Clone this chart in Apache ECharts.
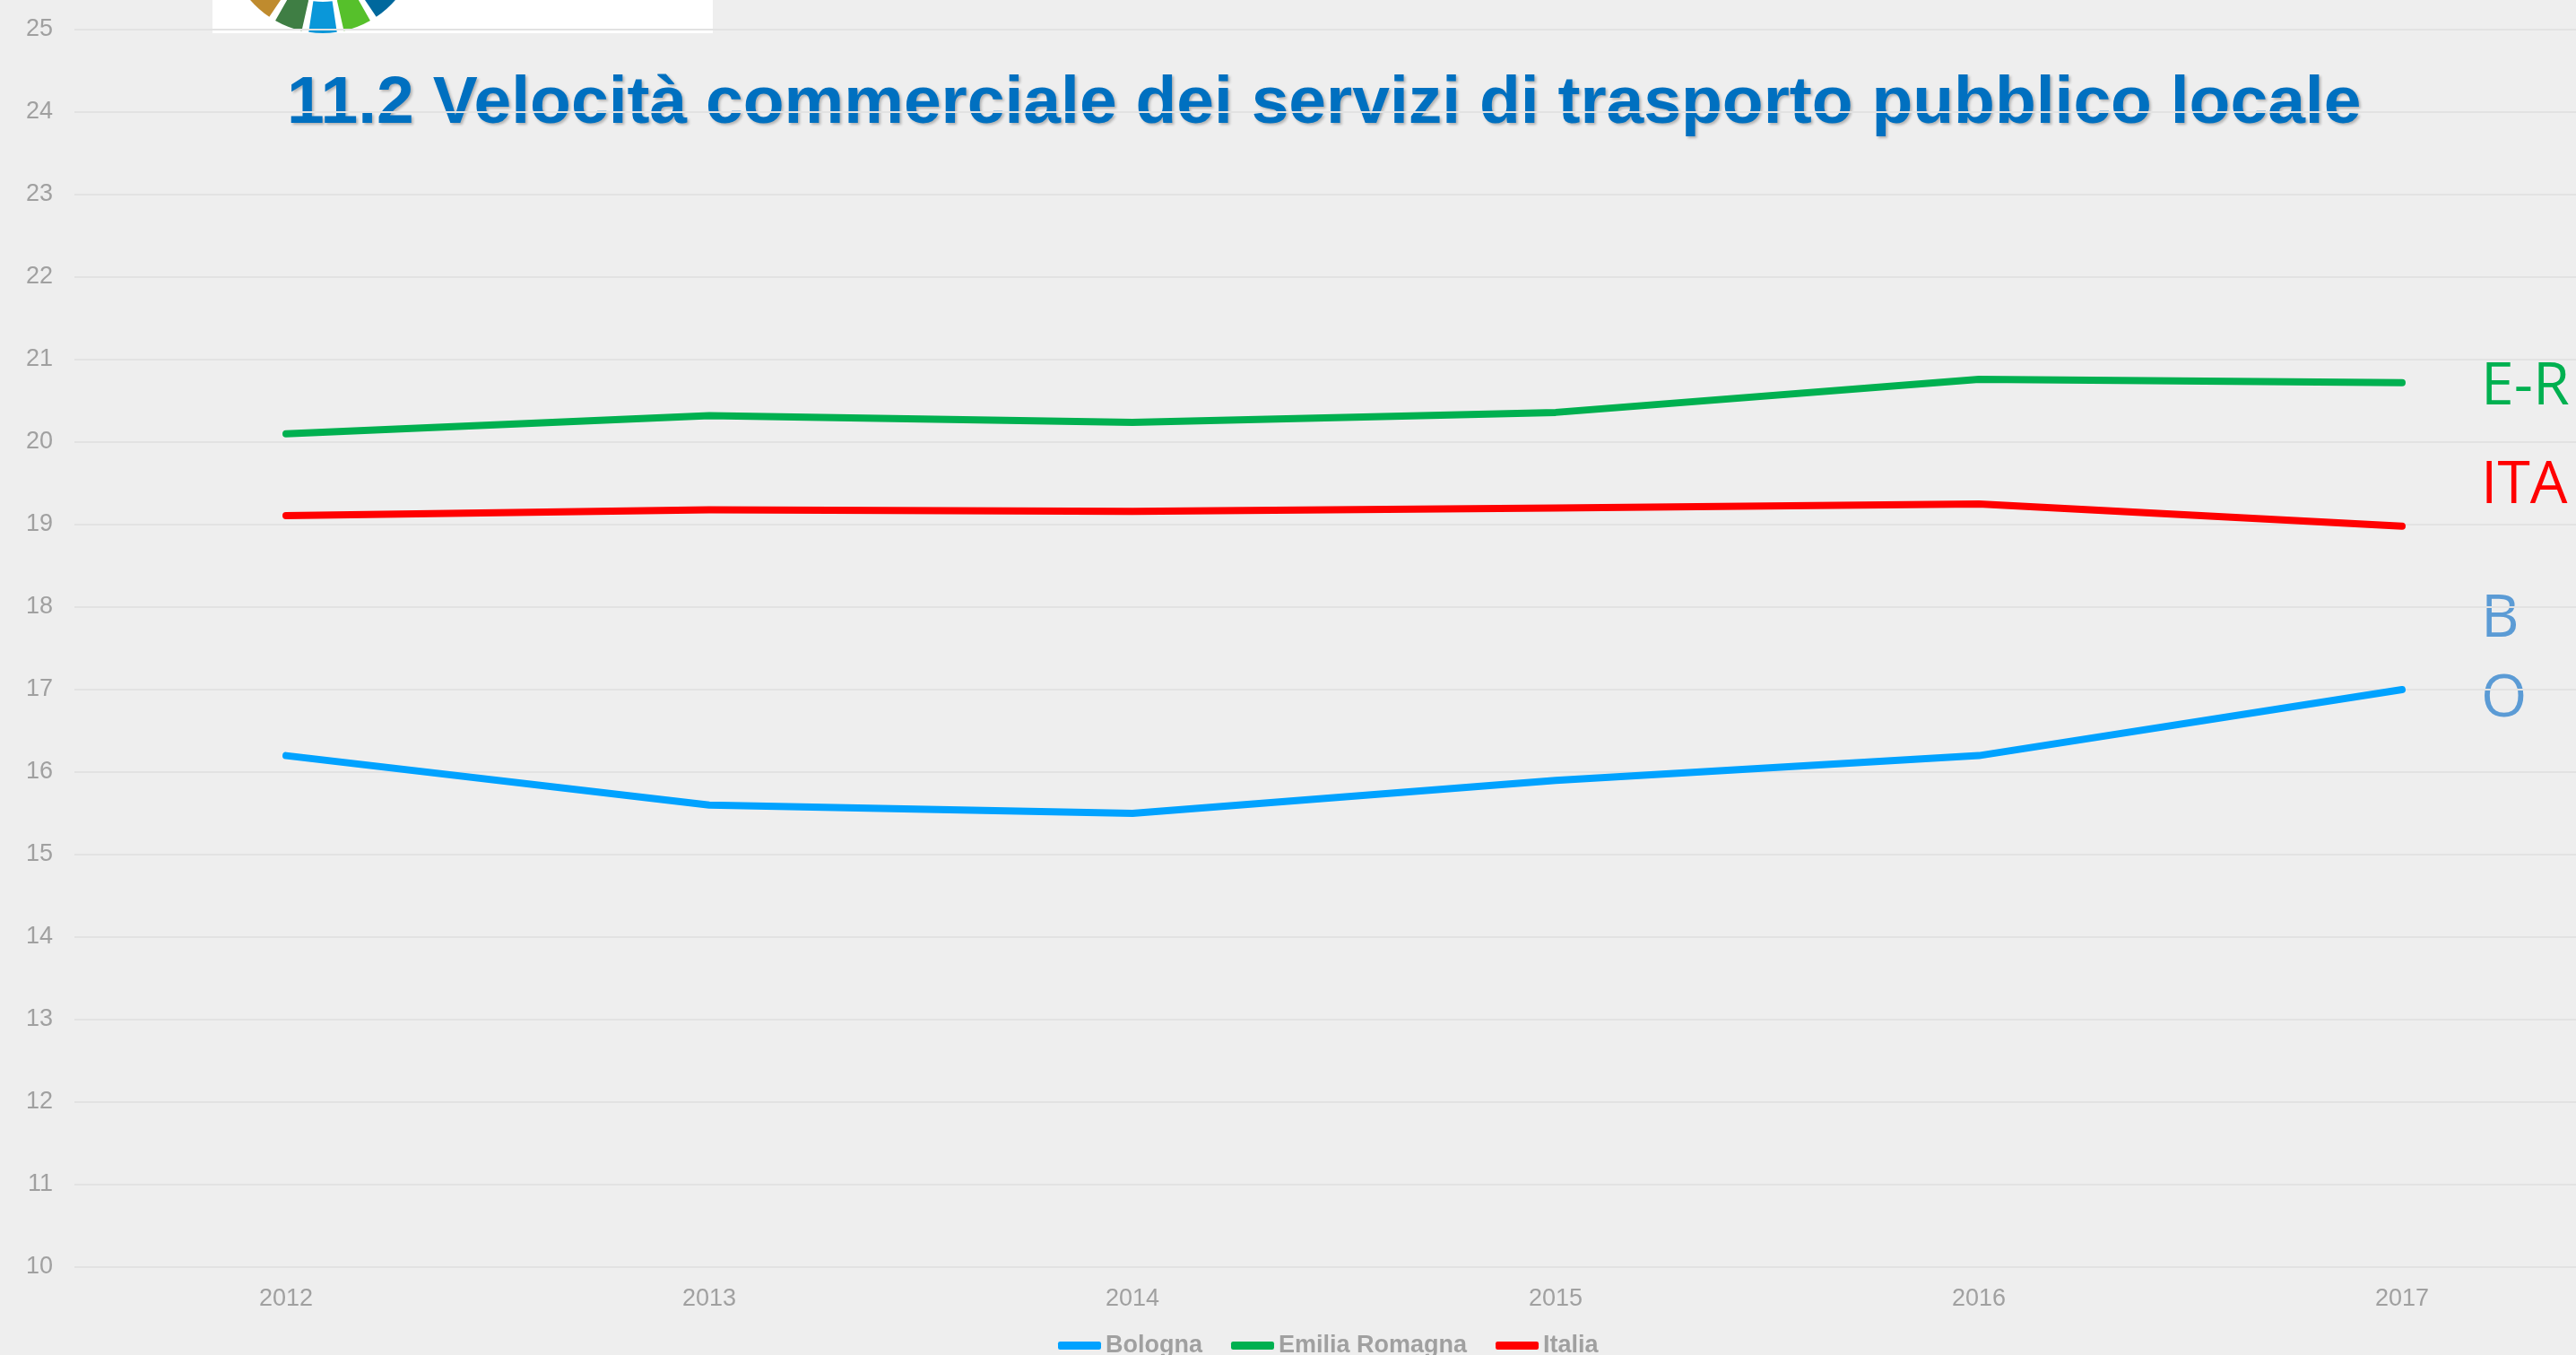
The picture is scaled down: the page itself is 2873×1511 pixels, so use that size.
<!DOCTYPE html>
<html>
<head>
<meta charset="utf-8">
<script src="https://cdn.jsdelivr.net/npm/echarts@6/dist/echarts.min.js"></script>
<style>
  html, body { margin: 0; padding: 0; background: #eeeeee; }
  #chart { width: 2873px; height: 1511px; }
</style>
</head>
<body>
<div id="chart"></div>
<script>
// data (km/h)
var years = ['2012', '2013', '2014', '2015', '2016', '2017'];
var bologna = [16.2, 15.6, 15.5, 15.9, 16.2, 17.0];
var emilia = [20.1, 20.32, 20.24, 20.36, 20.76, 20.72];
var italia = [19.11, 19.18, 19.16, 19.2, 19.25, 18.98];

var seriesNames = ['Bologna', 'Emilia Romagna', 'Italia'];
var seriesColors = ['#00a2ff', '#00b050', '#ff0000'];

var sideLabels = [
    { text: 'E-R', color: '#00b050', y: 432 },
    { text: 'ITA', color: '#ff0000', y: 542 },
    { text: 'B', color: '#5b9bd5', y: 691 },
    { text: 'O', color: '#5b9bd5', y: 780 }
];

var wheelColors = ['#e5243b', '#dda63a', '#4c9f38', '#c5192d', '#ff3a21', '#26bde2',
    '#fcc30b', '#a21942', '#fd6925', '#dd1367', '#fd9d24', '#bf8b2e', '#3f7e44',
    '#0a97d9', '#56c02b', '#00689d', '#19486a'];

var chart = echarts.init(document.getElementById('chart'));

// logo box at the top (partial SDG wheel)
var logo = [{
    type: 'rect',
    shape: { x: 237, y: 0, width: 558, height: 37 },
    style: { fill: '#ffffff' }
}];
var step = Math.PI * 2 / 17;
wheelColors.forEach(function(c, i) {
    var mid = Math.PI / 2 + (13 - i) * step;
    logo.push({
        type: 'sector',
        shape: { cx: 360, cy: -70, r0: 72, r: 107, startAngle: mid - step * 0.4, endAngle: mid + step * 0.4 },
        style: { fill: c }
    });
});

var labels = sideLabels.map(function(l) {
    return {
        type: 'text',
        x: 2767,
        y: l.y,
        style: {
            text: l.text,
            fill: l.color,
            fontSize: 66,
            fontFamily: 'Open Sans',
            verticalAlign: 'middle'
        }
    };
});

var option = {
    backgroundColor: '#eeeeee',
    animation: false,
    title: {
        text: '11.2 Velocità commerciale dei servizi di trasporto pubblico locale',
        left: 320,
        top: 79,
        padding: 0,
        z: -1,
        textStyle: {
            color: '#0070c0',
            fontFamily: 'Liberation Sans',
            fontWeight: 'bold',
            fontSize: 75,
            textShadowColor: 'rgba(0,0,0,0.25)',
            textShadowBlur: 3,
            textShadowOffsetX: 2,
            textShadowOffsetY: 2
        }
    },
    graphic: [
        { type: 'group', z: -1, children: logo },
        { type: 'group', children: labels }
    ],
    legend: {
        data: seriesNames,
        left: 1180,
        top: 1487,
        padding: 0,
        itemWidth: 48,
        itemHeight: 9,
        itemGap: 32,
        icon: 'roundRect',
        textStyle: {
            color: '#a0a0a0',
            fontFamily: 'Liberation Sans',
            fontWeight: 'bold',
            fontSize: 27
        }
    },
    grid: {
        left: 83,
        top: 33,
        width: 2832,
        height: 1380,
        outerBoundsMode: 'none'
    },
    xAxis: {
        type: 'category',
        data: years,
        boundaryGap: true,
        axisLine: { show: false },
        axisTick: { show: false },
        axisLabel: {
            color: '#a0a0a0',
            fontFamily: 'Liberation Sans',
            fontSize: 27,
            margin: 22
        }
    },
    yAxis: {
        type: 'value',
        min: 10,
        max: 25,
        interval: 1,
        axisLine: { show: false },
        axisTick: { show: false },
        axisLabel: {
            color: '#a0a0a0',
            fontFamily: 'Liberation Sans',
            fontSize: 27,
            margin: 24
        },
        splitLine: { lineStyle: { color: '#e2e2e2', width: 2 } }
    },
    series: [bologna, emilia, italia].map(function(vals, i) {
        return {
            name: seriesNames[i],
            type: 'line',
            data: vals,
            showSymbol: false,
            symbol: 'none',
            color: seriesColors[i],
            lineStyle: { width: 8, color: seriesColors[i], cap: 'round', join: 'round' }
        };
    })
};

chart.setOption(option);
</script>
</body>
</html>
